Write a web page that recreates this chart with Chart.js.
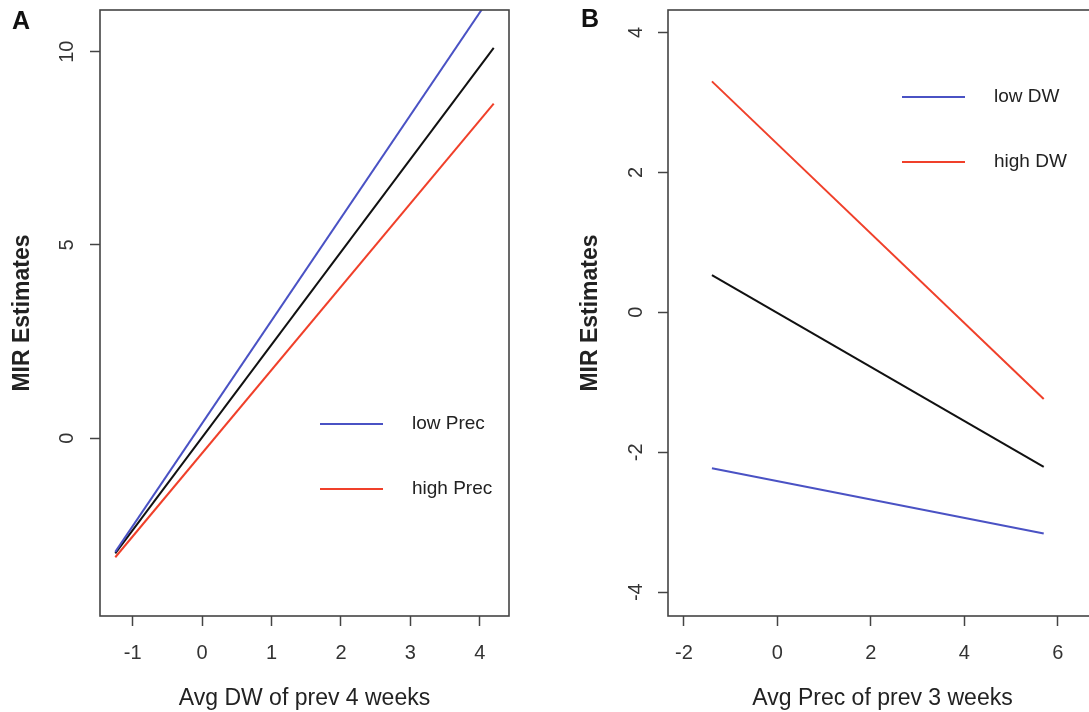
<!DOCTYPE html>
<html>
<head>
<meta charset="utf-8">
<script src="https://cdn.jsdelivr.net/npm/chart.js@4.4.0/dist/chart.umd.min.js"></script>
<style>
  html, body { margin: 0; padding: 0; background: #fff; width: 1089px; height: 712px; overflow: hidden; }
  #wrap { position: relative; width: 1089px; height: 712px; overflow: hidden; }
  canvas { position: absolute; top: 0; }
  #chartA { left: 0; }
  #chartB { left: 545px; }
  .tag { position: absolute; font: bold 25px "Liberation Sans", Arial, sans-serif; color: #111; }
</style>
</head>
<body>
<div id="wrap">
  <canvas id="chartA" width="545" height="712"></canvas>
  <canvas id="chartB" width="600" height="712"></canvas>
  <div class="tag" style="left:12px;top:6px">A</div>
  <div class="tag" style="left:581px;top:4px">B</div>
</div>
<script>
// Panel A: MIR vs avg DW, by precipitation level
const dwA = [-1.25, 4.2];
const lowPrecA = [-2.94, 11.55];
const avgA = [-2.98, 10.1];
const highPrecA = [-3.08, 8.66];
const xTicksA = [-1, 0, 1, 2, 3, 4];
const yTicksA = [0, 5, 10];

// Panel B: MIR vs avg precipitation, by DW level
const precB = [-1.4, 5.7];
const lowDwB = [-2.23, -3.16];
const avgB = [0.53, -2.21];
const highDwB = [3.3, -1.24];
const xTicksB = [-2, 0, 2, 4, 6];
const yTicksB = [-4, -2, 0, 2, 4];

const BLUE = "#4a52c4";
const RED = "#f0402a";
const BLACK = "#111111";
const FONT = '"Liberation Sans", Arial, sans-serif';

Chart.defaults.font.family = FONT;
Chart.defaults.color = "#333";

function pts(xs, ys) {
  return xs.map((x, i) => ({ x: x, y: ys[i] }));
}

function line(label, xs, ys, color, inLegend) {
  return {
    label: label,
    data: pts(xs, ys),
    borderColor: color,
    backgroundColor: color,
    borderWidth: 2,
    pointRadius: 0,
    showLine: true,
    inLegend: inLegend,
  };
}

// box around the plot region + R-style legend without frame
const boxAndLegend = {
  id: "boxAndLegend",
  afterDraw(chart, args, opts) {
    const { ctx, chartArea: a } = chart;
    ctx.save();
    ctx.strokeStyle = "#444";
    ctx.lineWidth = 1.6;
    ctx.strokeRect(a.left, a.top, a.right - a.left, a.bottom - a.top);
    ctx.font = "19px " + FONT;
    ctx.textBaseline = "middle";
    ctx.fillStyle = "#222";
    let y = a.top + opts.dy;
    chart.data.datasets.filter(d => d.inLegend).forEach(d => {
      const x = a.left + opts.dx;
      ctx.strokeStyle = d.borderColor;
      ctx.lineWidth = 2;
      ctx.beginPath();
      ctx.moveTo(x, y);
      ctx.lineTo(x + 63, y);
      ctx.stroke();
      ctx.fillText(d.label, x + 92, y);
      y += 65;
    });
    ctx.restore();
  },
};

function panel(id, p) {
  new Chart(document.getElementById(id), {
    type: "scatter",
    data: { datasets: p.datasets },
    options: {
      responsive: false,
      animation: false,
      layout: { padding: { left: 0, top: 10, right: p.right, bottom: 0 } },
      plugins: {
        legend: { display: false },
        tooltip: { enabled: false },
        boxAndLegend: { dx: p.legendDx, dy: p.legendDy },
      },
      scales: {
        x: {
          type: "linear",
          min: p.xMin,
          max: p.xMax,
          afterBuildTicks: s => { s.ticks = p.xTicks.map(v => ({ value: v })); },
          afterFit: s => { s.height = 96; s.paddingLeft = 0; s.paddingRight = 0; },
          border: { display: false },
          grid: { drawOnChartArea: false, drawTicks: true, tickLength: 10, tickColor: "#444", tickWidth: 1.5 },
          ticks: { font: { size: 20 }, padding: 15, color: "#333" },
          title: { display: true, text: p.xTitle, font: { size: 23 }, color: "#222", padding: { top: 0, bottom: 0 } },
        },
        y: {
          type: "linear",
          min: p.yMin,
          max: p.yMax,
          afterBuildTicks: s => { s.ticks = p.yTicks.map(v => ({ value: v })); },
          afterFit: s => { s.width = p.left; s.paddingTop = 0; s.paddingBottom = 0; },
          border: { display: false },
          grid: { drawOnChartArea: false, drawTicks: true, tickLength: 10, tickColor: "#444", tickWidth: 1.5 },
          ticks: { font: { size: 20 }, padding: p.yPad, color: "#333", minRotation: 90, maxRotation: 90, crossAlign: "center" },
          title: { display: true, text: "MIR Estimates", font: { size: 23, weight: "bold" }, color: "#222", padding: { top: p.yTitlePad, bottom: 0 } },
        },
      },
    },
    plugins: [boxAndLegend],
  });
}

panel("chartA", {
  datasets: [
    line("low Prec", dwA, lowPrecA, BLUE, true),
    line("high Prec", dwA, highPrecA, RED, true),
    line("average", dwA, avgA, BLACK, false),
  ],
  xMin: -1.47, xMax: 4.42, yMin: -4.6, yMax: 11.08,
  xTicks: xTicksA, yTicks: yTicksA,
  xTitle: "Avg DW of prev 4 weeks",
  left: 100, right: 36, yPad: 11, yTitlePad: 9,
  legendDx: 220, legendDy: 414,
});

panel("chartB", {
  datasets: [
    line("low DW", precB, lowDwB, BLUE, true),
    line("high DW", precB, highDwB, RED, true),
    line("average", precB, avgB, BLACK, false),
  ],
  xMin: -2.34, xMax: 6.84, yMin: -4.34, yMax: 4.32,
  xTicks: xTicksB, yTicks: yTicksB,
  xTitle: "Avg Prec of prev 3 weeks",
  left: 123, right: 48, yPad: 13, yTitlePad: 32,
  legendDx: 234, legendDy: 87,
});
</script>
</body>
</html>
